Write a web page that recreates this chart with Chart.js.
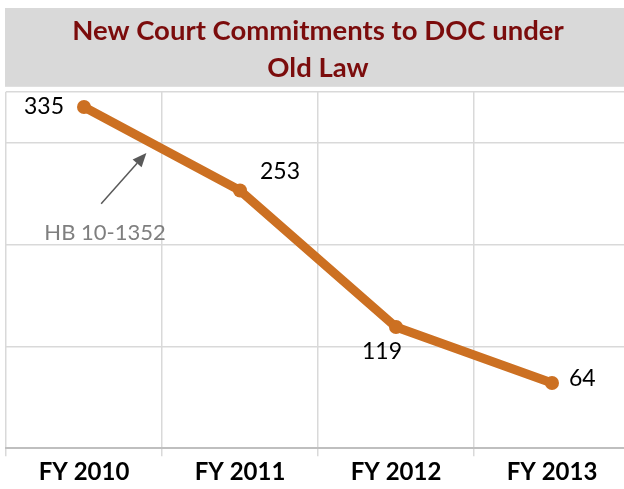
<!DOCTYPE html>
<html>
<head>
<meta charset="utf-8">
<script src="https://cdn.jsdelivr.net/npm/chart.js@4.4.1/dist/chart.umd.min.js"></script>
<style>
  html, body { margin: 0; padding: 0; background: #fff; overflow: hidden; width: 624px; height: 489px; }
  #wrap { position: relative; width: 624px; height: 489px; overflow: hidden; }
  canvas { display: block; position: absolute; left: 0; top: 0; }
</style>
</head>
<body>
<div id="wrap"><canvas id="chart" width="632" height="489"></canvas></div>
<script>
const categories = ["FY 2010", "FY 2011", "FY 2012", "FY 2013"];
const commitments = [335, 253, 119, 64];
const titleLines = ["New Court Commitments to DOC under", "Old Law"];
const noteText = "HB 10-1352";

// where each value label sits next to its point
const labelAlign = [
  { align: "right", dx: -20, dy: 0 },
  { align: "left", dx: 20, dy: -19 },
  { align: "center", dx: -14, dy: 25 },
  { align: "left", dx: 17, dy: -4 }
];

const FONT = "Lato, 'Open Sans', sans-serif";
const ORANGE = "#CC7022";

const titleBox = {
  id: "titleBox",
  beforeDraw(chart) {
    const { ctx, chartArea } = chart;
    const tb = chart.titleBlock;
    ctx.save();
    ctx.fillStyle = "#D9D9D9";
    ctx.fillRect(5, tb.top, chart.width, chartArea.top - 5 - tb.top);
    ctx.restore();
  }
};

const valueLabels = {
  id: "valueLabels",
  afterDatasetsDraw(chart) {
    const { ctx } = chart;
    const meta = chart.getDatasetMeta(0);
    ctx.save();
    ctx.font = "23px " + FONT;
    ctx.fillStyle = "#000";
    ctx.textBaseline = "middle";
    meta.data.forEach((pt, i) => {
      const a = labelAlign[i];
      ctx.textAlign = a.align;
      ctx.fillText(String(commitments[i]), pt.x + a.dx, pt.y + a.dy);
    });

    // HB 10-1352 note with arrow
    const x = chart.scales.x, y = chart.scales.y;
    const tipX = x.getPixelForValue(0.40), tipY = y.getPixelForValue(290);
    const tailX = x.getPixelForValue(0.11), tailY = y.getPixelForValue(240);
    ctx.strokeStyle = "#595959";
    ctx.fillStyle = "#595959";
    ctx.lineWidth = 1.5;
    const ang = Math.atan2(tipY - tailY, tipX - tailX);
    const head = 14;
    const baseX = tipX - head * Math.cos(ang), baseY = tipY - head * Math.sin(ang);
    ctx.beginPath();
    ctx.moveTo(tailX, tailY);
    ctx.lineTo(baseX, baseY);
    ctx.stroke();
    ctx.beginPath();
    ctx.moveTo(tipX, tipY);
    ctx.lineTo(baseX + 6 * Math.sin(ang), baseY - 6 * Math.cos(ang));
    ctx.lineTo(baseX - 6 * Math.sin(ang), baseY + 6 * Math.cos(ang));
    ctx.closePath();
    ctx.fill();

    ctx.font = "22px " + FONT;
    ctx.fillStyle = "#7F7F7F";
    ctx.textAlign = "center";
    ctx.fillText(noteText, x.getPixelForValue(0.135), y.getPixelForValue(211));
    ctx.restore();
  }
};

new Chart(document.getElementById("chart"), {
  type: "line",
  data: {
    labels: categories,
    datasets: [{
      data: commitments,
      borderColor: ORANGE,
      backgroundColor: ORANGE,
      borderWidth: 9,
      pointRadius: 7,
      pointBorderWidth: 0,
      pointHoverRadius: 7,
      tension: 0
    }]
  },
  options: {
    responsive: false,
    animation: false,
    // canvas is a bit wider than the page so the plot runs past the right edge
    layout: { autoPadding: false, padding: { top: 8, left: 6, right: 2, bottom: 0 } },
    plugins: {
      legend: { display: false },
      tooltip: { enabled: false },
      title: {
        display: true,
        text: titleLines,
        color: "#7B0C0C",
        font: { family: FONT, size: 27.5, weight: "bold", lineHeight: 1.36 },
        padding: { top: 4, bottom: 5 }
      }
    },
    scales: {
      x: {
        offset: true,
        grid: { offset: true, color: "#D9D9D9", lineWidth: 1.5, tickLength: 8, drawTicks: true },
        border: { color: "#BFBFBF", width: 2 },
        ticks: { color: "#000", padding: 2, font: { family: FONT, size: 24, weight: "bold", lineHeight: 1.2 } }
      },
      y: {
        min: 0,
        max: 350,
        ticks: { display: false, stepSize: 100 },
        grid: { color: "#D9D9D9", lineWidth: 1.5, drawTicks: false },
        border: { display: false },
        afterFit(scale) { scale.width = 0; }
      }
    }
  },
  plugins: [titleBox, valueLabels]
});
</script>
</body>
</html>
